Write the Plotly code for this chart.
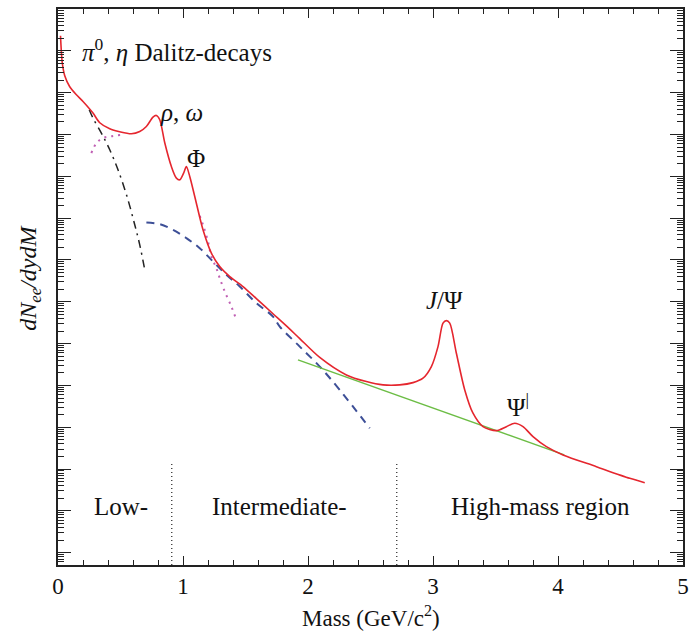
import numpy as np
import plotly.graph_objects as go

# Dielectron invariant-mass spectrum (arbitrary units, log scale).
# Yields are stored as log10(dN/dydM).

# Total cocktail
total_mass = [0.020, 0.026, 0.034, 0.054, 0.094, 0.147, 0.200, 0.280, 0.334, 0.414,
              0.494, 0.587, 0.654, 0.707, 0.760, 0.787, 0.814, 0.854, 0.907, 0.947,
              0.974, 1.006, 1.027, 1.054, 1.094, 1.160, 1.227, 1.294, 1.374, 1.480,
              1.587, 1.720, 1.827, 1.934, 2.094, 2.307, 2.467, 2.600, 2.734, 2.840,
              2.920, 2.987, 3.040, 3.080, 3.107, 3.134, 3.187, 3.254, 3.320, 3.400,
              3.507, 3.587, 3.654, 3.720, 3.800, 3.907, 4.040, 4.307, 4.574, 4.694]
total_log10 = [5.361, 5.026, 4.715, 4.404, 4.141, 3.950, 3.789, 3.512, 3.280, 3.136,
               3.065, 3.017, 3.072, 3.191, 3.416, 3.455, 3.352, 2.801, 2.234, 1.957,
               1.916, 2.084, 2.234, 1.995, 1.517, 0.720, 0.163, -0.158, -0.397, -0.636,
               -0.925, -1.287, -1.577, -1.880, -2.330, -2.749, -2.909, -2.988, -2.988, -2.933,
               -2.828, -2.550, -2.072, -1.512, -1.450, -1.512, -2.230, -3.108, -3.665, -3.986,
               -4.081, -3.986, -3.904, -3.986, -4.225, -4.464, -4.663, -4.943, -5.220, -5.325]

# Pi0 / eta Dalitz decays
dalitz_mass = [0.250, 0.280, 0.347, 0.414, 0.480, 0.552, 0.614, 0.654, 0.694]
dalitz_log10 = [3.591, 3.392, 3.033, 2.634, 2.156, 1.517, 0.840, 0.361, -0.237]

# Light vector mesons (rho, omega, phi) -- low- and high-mass tails
vector_mass = [0.267, 0.307, 0.360, 0.414, 0.467, 0.534, None,
               1.134, 1.160, 1.200, 1.227, 1.267, 1.294, 1.334, 1.387, 1.427]
vector_log10 = [2.555, 2.794, 2.914, 2.952, 2.976, 2.993, None,
                1.055, 0.840, 0.440, 0.081, -0.196, -0.435, -0.756, -1.115, -1.433]

# Open charm
charm_mass = [0.707, 0.814, 0.920, 1.027, 1.134, 1.240, 1.347, 1.454, 1.587, 1.720,
              1.774, 1.934, 2.094, 2.254, 2.494]
charm_log10 = [0.895, 0.856, 0.720, 0.522, 0.282, -0.038, -0.356, -0.636, -1.033, -1.354,
               -1.593, -2.072, -2.550, -3.108, -4.024]

# Drell-Yan / open beauty continuum
continuum_mass = [1.92, 4.05]
continuum_log10 = [-2.390, -4.660]

# Region boundaries (GeV/c^2)
region_edges = [0.91, 2.71]

SERIF = "Liberation Serif"


def lin(v):
    return [None if x is None else 10.0 ** x for x in v]


fig = go.Figure()

fig.add_trace(go.Scatter(x=charm_mass, y=lin(charm_log10), mode="lines",
                         line=dict(color="#3d4f97", width=2, dash="8px,6px", shape="spline"),
                         hoverinfo="skip"))
fig.add_trace(go.Scatter(x=continuum_mass, y=lin(continuum_log10), mode="lines",
                         line=dict(color="#6cbd45", width=1.5),
                         hoverinfo="skip"))
fig.add_trace(go.Scatter(x=dalitz_mass, y=lin(dalitz_log10), mode="lines",
                         line=dict(color="#222222", width=1.5, dash="8px,5px,2px,5px", shape="spline"),
                         hoverinfo="skip"))
fig.add_trace(go.Scatter(x=vector_mass, y=lin(vector_log10), mode="lines",
                         connectgaps=False,
                         line=dict(color="#c060b4", width=2, dash="2px,5px", shape="spline"),
                         hoverinfo="skip"))
fig.add_trace(go.Scatter(x=total_mass, y=lin(total_log10), mode="lines",
                         line=dict(color="#e5262e", width=1.6, shape="spline", smoothing=0.8),
                         hoverinfo="skip"))

for edge in region_edges:
    fig.add_shape(type="line", xref="x", yref="paper", x0=edge, x1=edge, y0=0, y1=0.185,
                  line=dict(color="#333333", width=1.3, dash="1px,3px"))

text_font = dict(family=SERIF, size=25, color="#111111")

labels = [
    (0.174, 0.926, "<i>π</i><sup>0</sup>, <i>η</i> Dalitz-decays", "left"),
    (0.99, 0.813, "<i>ρ</i>, <i>ω</i>", "center"),
    (1.10, 0.732, "Φ", "center"),
    (3.094, 0.475, "<i>J</i>/Ψ", "center"),
    (3.678, 0.288, "Ψ<sup>|</sup>", "center"),
    (0.50, 0.106, "Low-", "center"),
    (1.774, 0.106, "Intermediate-", "center"),
    (3.86, 0.106, "High-mass region", "center"),
]
for x, y, txt, anchor in labels:
    fig.add_annotation(x=x, y=y, xref="x", yref="paper", text=txt, showarrow=False,
                       xanchor=anchor, yanchor="middle", font=text_font)

# Axis titles
fig.add_annotation(x=-0.046, y=0.517, xref="paper", yref="paper",
                   text="<i>dN<sub>ee</sub>/dydM</i>", showarrow=False, textangle=-90,
                   xanchor="center", yanchor="middle",
                   font=dict(family=SERIF, size=24, color="#111111"))
fig.add_annotation(x=0.5, y=-0.093, xref="paper", yref="paper",
                   text="Mass (GeV/c<sup>2</sup>)", showarrow=False,
                   xanchor="center", yanchor="middle",
                   font=dict(family=SERIF, size=23, color="#111111"))

axis_common = dict(showline=True, linecolor="#222222", linewidth=1.5, mirror="allticks",
                   ticks="inside", tickcolor="#222222", showgrid=False, zeroline=False,
                   automargin=False)

fig.update_xaxes(range=[0, 5], tick0=0, dtick=1, ticklen=9, tickwidth=1.3,
                 tickfont=dict(family=SERIF, size=23, color="#111111"),
                 minor=dict(ticks="inside", dtick=0.2, ticklen=5, tickwidth=1.2,
                            tickcolor="#222222"),
                 **axis_common)

fig.update_yaxes(type="log", range=[-7.294, 6.0], dtick=1, ticklen=13, tickwidth=1.3,
                 showticklabels=False,
                 minor=dict(ticks="inside", dtick="D1", ticklen=6, tickwidth=1.1,
                            tickcolor="#222222"),
                 **axis_common)

fig.update_layout(width=693, height=633, showlegend=False,
                  margin=dict(l=58, r=10, t=9, b=68),
                  paper_bgcolor="white", plot_bgcolor="white")

fig.write_html("out.html")
